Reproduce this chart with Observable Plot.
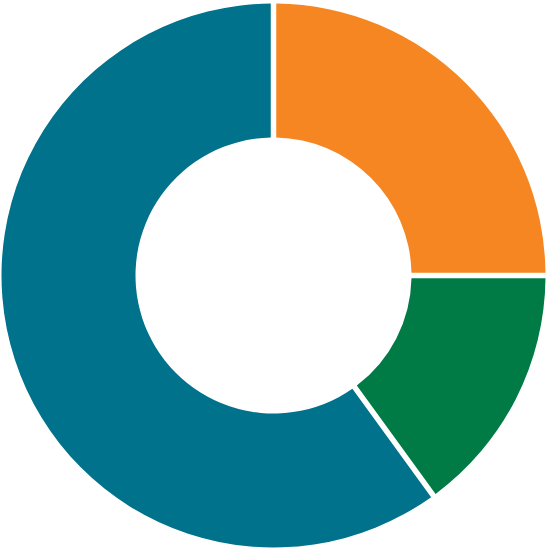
<!DOCTYPE html>
<html>
<head>
<meta charset="utf-8">
<script src="https://cdn.jsdelivr.net/npm/d3@7"></script>
<script src="https://cdn.jsdelivr.net/npm/@observablehq/plot@0.6"></script>
<style>
  html, body { margin: 0; padding: 0; background: #fff; }
</style>
</head>
<body>
<div id="chart"></div>
<script>
const categories = ["A", "B", "C"];
const values = [25, 15, 60];
const colors = ["#F58621", "#007B45", "#00728C"];

const data = categories.map((name, i) => ({name, value: values[i]}));

const outerR = 272; // px
const innerR = 138; // px

const pie = d3.pie().value(d => d.value).sort(null);

const chart = Plot.plot({
  width: 553,
  height: 556,
  marginTop: 0,
  marginLeft: 0,
  marginRight: 6,
  marginBottom: 5,
  x: {domain: [-1, 1], axis: null},
  y: {domain: [-1, 1], axis: null},
  color: {domain: categories, range: colors},
  marks: [
    Plot.dot(data, {
      x: () => 0,
      y: () => 0,
      fill: "name",
      render: (index, scales, vals, dimensions, context) => {
        const cx = scales.x(0), cy = scales.y(0);
        const idx = Array.from(index);
        const arcs = pie(idx.map(i => data[i]));
        const arc = d3.arc().innerRadius(innerR).outerRadius(outerR)
          .padAngle(0.055).padRadius(100);
        const g = d3.create("svg:g").attr("transform", `translate(${cx},${cy})`);
        g.selectAll("path")
          .data(arcs)
          .join("path")
          .attr("d", d => arc(d))
          .attr("fill", (d, j) => vals.fill ? vals.fill[idx[j]] : colors[j]);
        return g.node();
      }
    })
  ]
});
document.getElementById("chart").appendChild(chart);
</script>
</body>
</html>
